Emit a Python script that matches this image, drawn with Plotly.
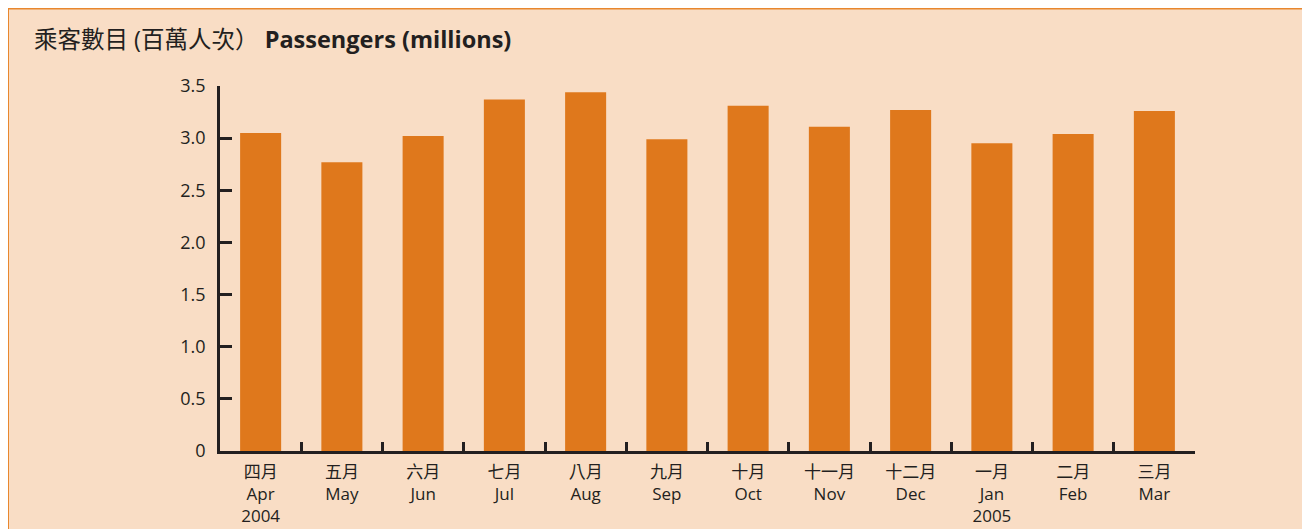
import plotly.graph_objects as go

months_zh = ["四月", "五月", "六月", "七月", "八月", "九月", "十月", "十一月", "十二月", "一月", "二月", "三月"]
months_en = ["Apr", "May", "Jun", "Jul", "Aug", "Sep", "Oct", "Nov", "Dec", "Jan", "Feb", "Mar"]
years = ["2004", "", "", "", "", "", "", "", "", "2005", "", ""]
passengers = [3.05, 2.77, 3.02, 3.37, 3.44, 2.99, 3.31, 3.11, 3.27, 2.95, 3.04, 3.26]
y_ticks = [0, 0.5, 1.0, 1.5, 2.0, 2.5, 3.0, 3.5]
y_ticktext = ["0", "0.5", "1.0", "1.5", "2.0", "2.5", "3.0", "3.5"]

cats = list(range(len(months_en)))
ticktext = [f"{z}<br>{e}" + (f"<br>{y}" if y else "") for z, e, y in zip(months_zh, months_en, years)]

# page has an 8px body margin: figure origin sits at page (8, 8)
OFF = 8
W, H = 1310, 529
L, T = 220 - OFF, 86 - OFF
R = W - (1195 - OFF)
B = H - (451 - OFF)
pw, ph = W - L - R, H - T - B

def px_x(p):
    return (p - OFF - L) / pw

def px_y(p):
    return (H - B - (p - OFF)) / ph

DARK = "#231F20"
PEACH = "#F9DDC5"
ORANGE = "#DF781C"
FONT = "Open Sans, Noto Sans CJK TC, sans-serif"

fig = go.Figure()
fig.add_trace(go.Bar(x=cats, y=passengers, marker=dict(color=ORANGE, line=dict(width=0)), width=0.505))

fig.update_layout(
    width=W, height=H,
    margin=dict(l=L, r=R, t=T, b=B, autoexpand=False),
    paper_bgcolor=PEACH,
    plot_bgcolor="rgba(0,0,0,0)",
    showlegend=False,
    font=dict(family=FONT, color=DARK, size=17),
    shapes=[
        dict(type="line", xref="paper", yref="paper", x0=px_x(8), x1=px_x(8), y0=px_y(8), y1=px_y(600),
             line=dict(color="#E8872E", width=2)),
        dict(type="line", xref="paper", yref="paper", x0=px_x(8), x1=px_x(1400), y0=px_y(8.5), y1=px_y(8.5),
             line=dict(color="#E8872E", width=2)),
    ],
    annotations=[dict(xref="paper", yref="paper", x=px_x(32), y=px_y(39),
                      xanchor="left", yanchor="middle", showarrow=False,
                      text="<span style='font-size:23.5px'>乘客數目 (百萬人次）</span> <b>Passengers (millions)</b>",
                      font=dict(size=23.5, color=DARK, family=FONT))],
)
fig.update_xaxes(
    type="linear", range=[-0.5, 11.5], tickmode="array", tickvals=cats, ticktext=ticktext,
    showgrid=False, zeroline=False, showline=True, linecolor=DARK, linewidth=2.5,
    ticks="", tickfont=dict(size=17, color=DARK), ticklabelstandoff=4,
)
fig.update_layout(xaxis2=dict(overlaying="x", range=[-0.5, 11.5], tickmode="array",
                              tickvals=[i + 0.5 for i in cats], ticks="inside", ticklen=9, tickwidth=2.5,
                              tickcolor=DARK, showticklabels=False, showgrid=False, zeroline=False,
                              side="bottom", anchor="y"))
fig.add_trace(go.Scatter(x=[0], y=[0], xaxis="x2", mode="markers", marker=dict(opacity=0), hoverinfo="skip"))
fig.update_yaxes(
    range=[0, 3.5], tickmode="array", tickvals=y_ticks, ticktext=y_ticktext,
    showgrid=False, zeroline=False, showline=True, linecolor=DARK, linewidth=2.5,
    ticks="inside", ticklen=12, tickwidth=2.5, tickcolor=DARK,
    tickfont=dict(size=18, color=DARK), ticklabelstandoff=8,
)

fig.write_html("out.html")
